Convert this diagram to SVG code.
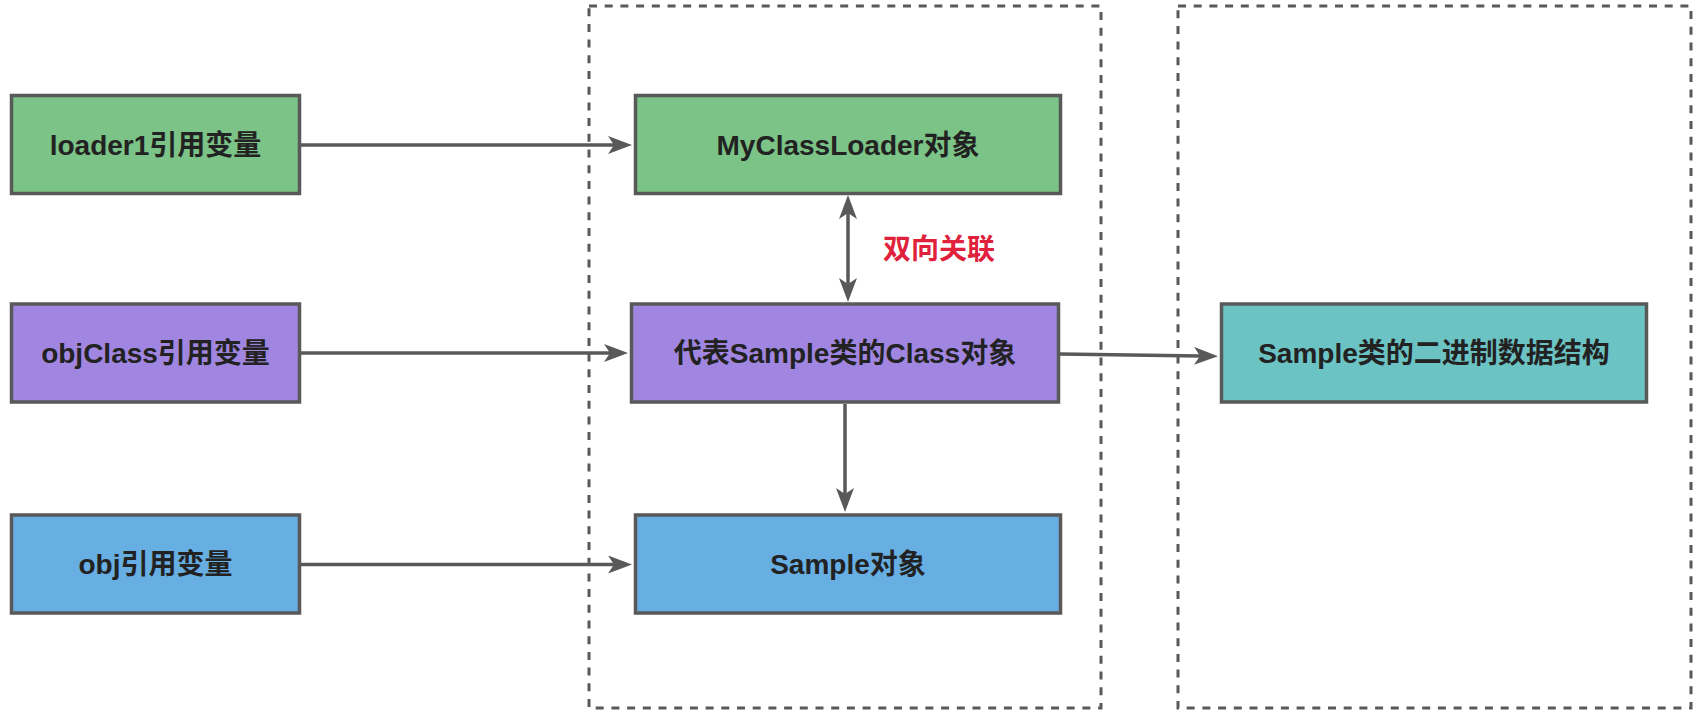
<svg xmlns="http://www.w3.org/2000/svg" width="1706" height="714" viewBox="0 0 1706 714">
  <style>
    .box { stroke: #595959; stroke-width: 3.5; }
    .green { fill: #7BC386; }
    .purple { fill: #A086E0; }
    .blue { fill: #67AEE2; }
    .teal { fill: #6CC3C4; }
    .frame { fill: none; stroke: #595959; stroke-width: 3; stroke-dasharray: 8 7.7; }
    .label { font-family: 'Liberation Sans', 'Noto Sans CJK SC', sans-serif; font-weight: bold; font-size: 28px; fill: #222222; text-anchor: middle; }
    .note { font-family: 'Noto Sans CJK SC', sans-serif; font-weight: bold; font-size: 28px; fill: #E0213C; }
    .edge { fill: none; stroke: #595959; stroke-width: 3.5; }
  </style>
  <defs>
    <marker id="arrow" viewBox="0 0 24 18" refX="6" refY="9" markerWidth="24" markerHeight="18" markerUnits="userSpaceOnUse" orient="auto-start-reverse">
      <path d="M0,0 L24,9 L0,18 L6,9 Z" fill="#595959"/>
    </marker>
  </defs>
  <rect width="1706" height="714" fill="#ffffff"/>

  <g id="frames">
    <rect class="frame" x="589" y="6" width="512" height="702"/>
    <rect class="frame" x="1178" y="6" width="513" height="702"/>
  </g>

  <g id="connectors">
    <path class="edge" d="M301,145 H614" marker-end="url(#arrow)"/>
    <path class="edge" d="M301,353 H610" marker-end="url(#arrow)"/>
    <path class="edge" d="M301,564.5 H614" marker-end="url(#arrow)"/>
    <path class="edge" d="M1060,354 L1200,356" marker-end="url(#arrow)"/>
    <path class="edge" d="M848,213 V284" marker-start="url(#arrow)" marker-end="url(#arrow)"/>
    <path class="edge" d="M845,404 V494" marker-end="url(#arrow)"/>
    <text class="note" x="883" y="259">双向关联</text>
  </g>

  <g id="loader1">
    <rect class="box green" x="11.5" y="95.5" width="288" height="98"/>
    <text class="label" x="155.5" y="155">loader1引用变量</text>
  </g>
  <g id="objClass">
    <rect class="box purple" x="11.5" y="304" width="288" height="98"/>
    <text class="label" x="155.5" y="363">objClass引用变量</text>
  </g>
  <g id="obj">
    <rect class="box blue" x="11.5" y="515" width="288" height="98"/>
    <text class="label" x="155.5" y="574">obj引用变量</text>
  </g>
  <g id="myClassLoader">
    <rect class="box green" x="635.5" y="95.5" width="425" height="98"/>
    <text class="label" x="848" y="155">MyClassLoader对象</text>
  </g>
  <g id="classObject">
    <rect class="box purple" x="631.5" y="304" width="427" height="98"/>
    <text class="label" x="845" y="363">代表Sample类的Class对象</text>
  </g>
  <g id="sampleObject">
    <rect class="box blue" x="635.5" y="515" width="425" height="98"/>
    <text class="label" x="848" y="574">Sample对象</text>
  </g>
  <g id="binaryData">
    <rect class="box teal" x="1221.5" y="304" width="425" height="98"/>
    <text class="label" x="1434" y="363">Sample类的二进制数据结构</text>
  </g>
</svg>
